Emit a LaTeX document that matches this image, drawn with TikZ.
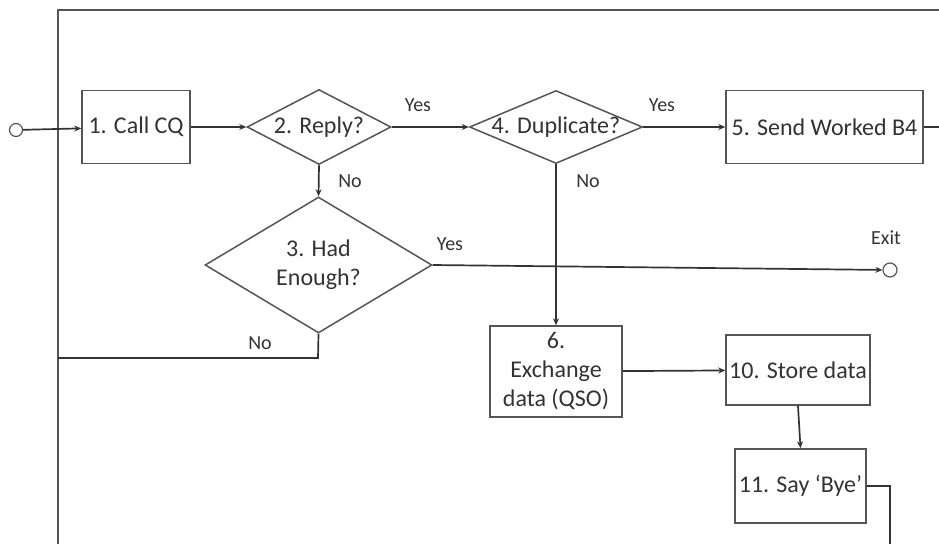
\documentclass[tikz,border=0pt]{standalone}
\usepackage{fontspec}
\setmainfont{Carlito}
\usetikzlibrary{shapes.geometric,arrows.meta}
\definecolor{ink}{HTML}{333333}
\definecolor{edge}{HTML}{555555}
\begin{document}
\begin{tikzpicture}[x=1pt,y=-1pt,
  txt/.style={text=ink,font=\fontsize{24}{29}\selectfont},
  lbl/.style={text=ink,font=\fontsize{20}{23}\selectfont,inner sep=0pt},
  procbox/.style={draw=edge,line width=1.5pt,fill=white,inner sep=0pt,txt,align=center},
  decision/.style={draw=edge,line width=1.5pt,fill=white,diamond,inner sep=0pt},
  terminal/.style={circle,draw=edge,line width=1.2pt,fill=white,inner sep=0pt,minimum size=13pt},
  flow/.style={draw=ink,line width=1.7pt,-{Stealth[length=7pt,width=6pt]}},
  wire/.style={draw=ink,line width=1.7pt},
  frame/.style={draw=edge,line width=2.6pt}
]
\useasboundingbox (0,0) rectangle (939,544);

% outer return loop
\coordinate (topleft) at (58,10);
\coordinate (topright) at (939,10);
\coordinate (botleft) at (58,544);
\draw[frame] (botleft) -- (topleft) -- (topright);

% nodes
\node[terminal] (start) at (16,130) {};
\node[procbox,minimum width=108pt,minimum height=73pt] (call) at (136,127) {1. Call CQ};
\node[decision,minimum width=144pt,minimum height=75pt,
      label={[txt]center:2. Reply?}] (reply) at (319,127) {};
\node[decision,minimum width=173pt,minimum height=73pt,
      label={[txt]center:4. Duplicate?}] (dup) at (556,127) {};
\node[procbox,minimum width=197pt,minimum height=73pt] (worked) at (824.5,127) {5. Send Worked B4};
\node[decision,minimum width=227pt,minimum height=136pt,
      label={[txt,align=center]center:3. Had\\Enough?}] (enough) at (318.5,265) {};
\node[terminal,minimum size=14pt] (exit) at (890,270) {};
\node[procbox,minimum width=132pt,minimum height=91pt] (qso) at (556,371.5) {6.\\Exchange\\data (QSO)};
\node[procbox,minimum width=144pt,minimum height=70pt] (store) at (798,370) {10. Store data};
\node[procbox,minimum width=131pt,minimum height=74pt] (bye) at (800.5,486) {11. Say ‘Bye’};

\coordinate (workedout) at (939,127);
\coordinate (noback) at (318,358);
\coordinate (byecorner) at (890,486);
\coordinate (byeout) at (890,544);

% connectors
\draw[flow] (start) -- (call);
\draw[flow] (call) -- (reply);
\draw[flow] (reply) -- (dup);
\draw[flow] (dup) -- (worked);
\draw[wire] (worked) -- (workedout);
\draw[flow] (reply.south) -- (enough.north);
\draw[flow] (enough.east) -- (exit);
\draw[wire] (enough.south) -- (noback) -- (58,358);
\draw[flow] (dup.south) -- (qso.north);
\draw[flow] (qso) -- (store);
\draw[flow] (store.south) -- (bye.north);
\draw[wire] (bye.east) -- (byecorner) -- (byeout);

% branch labels
\node[lbl] (y1) at (418,105) {Yes};
\node[lbl] (y2) at (662,105) {Yes};
\node[lbl] (n1) at (350,181) {No};
\node[lbl] (n2) at (588,181) {No};
\node[lbl] (y3) at (450,244) {Yes};
\node[lbl] (ex) at (886,238) {Exit};
\node[lbl] (n3) at (260,343) {No};
\end{tikzpicture}
\end{document}
